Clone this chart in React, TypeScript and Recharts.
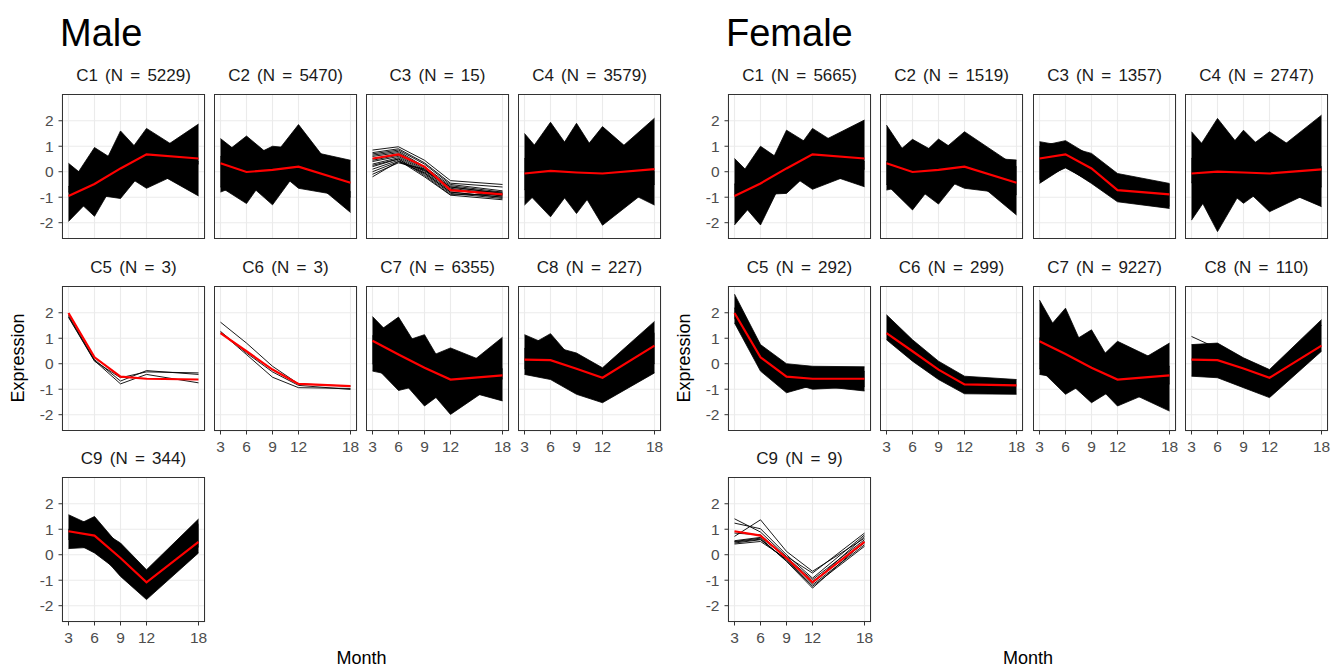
import React from 'react';
import { ComposedChart, Area, Line, XAxis, YAxis, CartesianGrid } from 'recharts';

const months = [3, 6, 9, 12, 18];
const yTicks = [-2, -1, 0, 1, 2];

const maleTitles = [
  'C1 (N = 5229)', 'C2 (N = 5470)', 'C3 (N = 15)', 'C4 (N = 3579)',
  'C5 (N = 3)', 'C6 (N = 3)', 'C7 (N = 6355)', 'C8 (N = 227)', 'C9 (N = 344)',
];
const femaleTitles = [
  'C1 (N = 5665)', 'C2 (N = 1519)', 'C3 (N = 1357)', 'C4 (N = 2747)',
  'C5 (N = 292)', 'C6 (N = 299)', 'C7 (N = 9227)', 'C8 (N = 110)', 'C9 (N = 9)',
];

// cluster centres (red lines)
const maleMeans = [
  [-0.95, -0.48, 0.13, 0.68, 0.52],
  [0.33, -0.01, 0.07, 0.2, -0.43],
  [0.52, 0.68, 0.2, -0.72, -0.89],
  [-0.07, 0.03, -0.03, -0.07, 0.1],
  [1.99, 0.25, -0.51, -0.59, -0.62],
  [1.2, 0.49, -0.23, -0.79, -0.88],
  [0.9, 0.36, -0.16, -0.62, -0.46],
  [0.16, 0.14, -0.2, -0.55, 0.71],
  [0.92, 0.75, -0.13, -1.08, 0.5],
];
const femaleMeans = [
  [-0.95, -0.46, 0.13, 0.68, 0.52],
  [0.33, -0.01, 0.07, 0.2, -0.43],
  [0.52, 0.68, 0.13, -0.72, -0.89],
  [-0.07, 0.0, -0.03, -0.07, 0.09],
  [1.99, 0.25, -0.51, -0.59, -0.59],
  [1.2, 0.49, -0.23, -0.81, -0.85],
  [0.88, 0.38, -0.16, -0.62, -0.46],
  [0.16, 0.14, -0.19, -0.55, 0.71],
  [0.92, 0.75, -0.13, -1.08, 0.5],
];

// envelopes of the dense gene bundles: each band is [low, high] per month
const mC1Bands = [
  [[-1.95, -0.9, -1.05, 0.2, -0.95], [0.33, -0.5, 1.6, 0.5, 1.87]],
  [[-0.8, -1.75, 0.0, -0.65, 0.3], [-0.6, 0.95, 0.3, 1.7, 0.4]],
];
const mC2Bands = [
  [[-0.8, -0.4, -1.3, 0.1, -1.6], [1.3, 0.5, 1.0, 0.9, 0.45]],
  [[-0.6, -1.25, 0.2, -0.65, -1.0], [0.6, 1.4, 0.55, 1.85, -0.8]],
];
const mC4Bands = [
  [[-1.31, -0.3, -1.64, -0.3, -1.31], [1.5, 0.3, 1.9, 0.3, 2.1]],
  [[-0.7, -1.77, -0.4, -2.1, -0.5], [0.5, 1.94, 0.5, 1.77, 0.0]],
];
const mC7Bands = [
  [[-0.29, -0.5, -1.66, -0.9, -1.46], [1.85, 0.8, 1.14, -0.6, 1.04]],
  [[0.0, -1.05, -0.8, -1.99, -0.6], [1.1, 1.83, 0.2, 0.62, -0.2]],
];
const mC8Bands = [
  [[-0.42, -0.62, -1.2, -1.53, -0.36], [1.14, 0.7, 0.42, -0.16, 1.66]],
  [[-0.2, -0.3, -0.9, -1.2, 0.0], [0.6, 1.18, 0.0, -0.3, 1.2]],
];
const mC9Bands = [
  [[0.24, 0.3, -0.85, -1.76, 0.07], [1.57, 1.1, 0.46, -0.59, 1.4]],
  [[0.6, 0.07, -0.7, -1.5, 0.3], [1.0, 1.5, 0.3, -0.7, 1.2]],
];
const fC1Bands = [
  [[-2.09, -0.9, -0.85, 0.1, -0.59], [0.52, -0.5, 1.63, 1.0, 2.03]],
  [[-0.9, -2.09, 0.0, -0.69, 0.1], [-0.5, 1.0, 0.3, 1.7, 0.4]],
];
const fC2Bands = [
  [[-0.72, -0.5, -1.27, 0.0, -1.7], [1.83, 0.3, 1.28, 0.6, 0.46]],
  [[-0.5, -1.5, -0.2, -0.65, -0.9], [0.4, 1.27, 0.7, 1.57, 0.2]],
];
const fC3Bands = [
  [[-0.46, 0.2, -0.46, -1.18, -1.44], [1.18, 1.0, 0.72, -0.07, -0.46]],
  [[-0.3, 0.15, -0.4, -1.1, -1.35], [1.0, 1.22, 0.6, -0.15, -0.5]],
];
const fC4Bands = [
  [[-1.9, -0.4, -1.24, -0.5, -1.37], [1.57, 0.4, 1.63, 0.6, 2.22]],
  [[-0.4, -2.35, -0.6, -1.57, -0.6], [0.5, 2.09, 0.8, 1.57, 0.2]],
];
const fC5Bands = [
  [[1.6, -0.29, -1.14, -0.85, -1.07], [2.73, 0.75, 0.0, -0.1, -0.12]],
  [[1.8, -0.2, -0.7, -1.0, -0.9], [2.2, 0.5, -0.1, -0.2, -0.3]],
];
const fC6Bands = [
  [[0.94, 0.1, -0.62, -1.18, -1.2], [1.92, 0.94, 0.1, -0.49, -0.62]],
];
const fC7Bands = [
  [[-0.42, -0.6, -1.53, -0.9, -1.86], [2.5, 0.7, 1.33, -0.4, 0.81]],
  [[-0.2, -1.2, -0.6, -1.66, -0.8], [1.0, 2.18, -0.1, 0.88, -0.1]],
];
const fC8Bands = [
  [[-0.49, -0.55, -0.94, -1.33, 0.49], [0.75, 0.81, 0.23, -0.23, 1.73]],
];

// individual gene trajectories for the small clusters
const mC3Lines = [
  [0.85, 0.98, 0.45, -0.35, -0.5],
  [0.75, 0.9, 0.35, -0.45, -0.6],
  [0.7, 0.85, 0.3, -0.5, -0.75],
  [0.65, 0.8, 0.2, -0.55, -0.8],
  [0.6, 0.75, 0.15, -0.6, -0.85],
  [0.5, 0.7, 0.1, -0.65, -0.9],
  [0.45, 0.65, 0.05, -0.7, -0.95],
  [0.4, 0.6, 0.0, -0.75, -0.8],
  [0.3, 0.55, -0.05, -0.8, -1.0],
  [0.25, 0.5, -0.1, -0.85, -1.05],
  [0.2, 0.5, -0.15, -0.9, -0.9],
  [0.1, 0.45, -0.2, -0.92, -1.1],
  [0.0, 0.4, 0.05, -0.6, -0.85],
  [-0.1, 0.35, 0.1, -0.7, -0.95],
  [-0.2, 0.4, -0.05, -0.8, -1.0],
];
const mC5Lines = [
  [1.9, 0.16, -0.68, -0.27, -0.42],
  [1.82, 0.1, -0.55, -0.32, -0.36],
  [1.85, 0.12, -0.79, -0.42, -0.75],
];
const mC6Lines = [
  [1.63, 0.81, -0.1, -0.79, -0.88],
  [1.24, 0.36, -0.53, -0.94, -0.97],
  [1.27, 0.42, -0.32, -0.85, -1.01],
];
const fC8Lines = [[1.07, 0.6, 0.1, -0.3, 1.5]];
const fC9Lines = [
  [1.41, 0.89, -0.07, -0.72, 0.85],
  [1.24, 1.02, 0.0, -0.92, 0.78],
  [0.72, 1.37, 0.13, -0.65, 0.65],
  [0.52, 0.65, -0.26, -1.31, 0.52],
  [0.46, 0.59, -0.2, -1.18, 0.39],
  [0.42, 0.52, -0.16, -1.05, 0.46],
  [0.55, 0.68, -0.1, -0.98, 0.59],
  [0.85, 0.78, -0.13, -1.11, 0.72],
  [0.5, 0.61, -0.24, -1.24, 0.33],
];

const maleBands = [mC1Bands, mC2Bands, [], mC4Bands, [], [], mC7Bands, mC8Bands, mC9Bands];
const maleLines = [[], [], mC3Lines, [], mC5Lines, mC6Lines, [], [], []];
const femaleBands = [fC1Bands, fC2Bands, fC3Bands, fC4Bands, fC5Bands, fC6Bands, fC7Bands, fC8Bands, []];
const femaleLines = [[], [], [], [], [], [], [], fC8Lines, fC9Lines];

const FONT = '"Liberation Sans", Arial, sans-serif';
const PW = 143;
const PH = 145;
const Y_W = 40;
const X_H = 28;
const R_PAD = 12;
const TICK_FONT = 15.5;
const X_DOMAIN = [2.25, 18.75];
const Y_DOMAIN = [-2.64, 3.05];
const ROW_TOPS = [94, 286, 477];
const MALE_LEFTS = [62, 214, 366, 518];
const FEMALE_LEFTS = [728, 880, 1033, 1185];

interface FacetProps {
  title: string;
  mean: number[];
  bands: number[][][];
  lines: number[][];
  left: number;
  top: number;
  showX: boolean;
  showY: boolean;
}

function Facet({ title, mean, bands, lines, left, top, showX, showY }: FacetProps) {
  const data = months.map((m, i) => {
    const row: Record<string, any> = { month: m, mean: mean[i] };
    bands.forEach((b, k) => {
      row['b' + k] = [b[0][i], b[1][i]];
    });
    lines.forEach((l, k) => {
      row['l' + k] = l[i];
    });
    return row;
  });
  const yw = showY ? Y_W : 0;
  const xh = showX ? X_H : 0;

  return (
    <>
      <div
        style={{
          position: 'absolute',
          left: left - 10,
          top: top - 28,
          width: PW + 20,
          textAlign: 'center',
          fontSize: 17,
          lineHeight: '20px',
          wordSpacing: 2.5,
          color: '#1a1a1a',
          whiteSpace: 'nowrap',
        }}
      >
        {title}
      </div>
      <div style={{ position: 'absolute', left: left - yw, top, width: yw + PW + R_PAD, height: PH + xh }}>
        <ComposedChart
          width={yw + PW + R_PAD}
          height={PH + xh}
          data={data}
          margin={{ top: 0, right: R_PAD, bottom: 0, left: 0 }}
        >
          <CartesianGrid stroke="#EBEBEB" strokeWidth={1.1} />
          <XAxis
            dataKey="month"
            type="number"
            domain={X_DOMAIN}
            ticks={months}
            interval={0}
            allowDataOverflow
            hide={!showX}
            height={X_H}
            axisLine={false}
            tickSize={3.5}
            tickMargin={6}
            tickLine={{ stroke: '#333' }}
            tick={{ fill: '#4D4D4D', fontSize: TICK_FONT, fontFamily: FONT }}
          />
          <YAxis
            type="number"
            domain={Y_DOMAIN}
            ticks={yTicks}
            interval={0}
            allowDataOverflow
            hide={!showY}
            width={Y_W}
            axisLine={false}
            tickSize={3.5}
            tickMargin={5}
            tickLine={{ stroke: '#333' }}
            tick={{ fill: '#4D4D4D', fontSize: TICK_FONT, fontFamily: FONT }}
          />
          {bands.map((_, k) => (
            <Area
              key={'b' + k}
              dataKey={'b' + k}
              type="linear"
              fill="#000"
              fillOpacity={1}
              stroke="#000"
              strokeWidth={0.8}
              dot={false}
              activeDot={false}
              isAnimationActive={false}
            />
          ))}
          {lines.map((_, k) => (
            <Line
              key={'l' + k}
              dataKey={'l' + k}
              type="linear"
              stroke="#000"
              strokeWidth={0.9}
              dot={false}
              activeDot={false}
              isAnimationActive={false}
            />
          ))}
          <Line
            dataKey="mean"
            type="linear"
            stroke="#FF0000"
            strokeWidth={2.2}
            dot={false}
            activeDot={false}
            isAnimationActive={false}
          />
        </ComposedChart>
        <div
          style={{
            position: 'absolute',
            left: yw,
            top: 0,
            width: PW,
            height: PH,
            border: '1px solid #333',
            boxSizing: 'border-box',
            pointerEvents: 'none',
          }}
        />
      </div>
    </>
  );
}

function Panel({ label, titles, means, bands, lines, lefts }: any) {
  const x0 = lefts[0];
  const x1 = lefts[3] + PW;
  const bottom = ROW_TOPS[2] + PH;
  return (
    <>
      <div style={{ position: 'absolute', left: x0 - 2, top: 11, fontSize: 38, lineHeight: '44px', color: '#000' }}>
        {label}
      </div>
      {titles.map((t: string, i: number) => {
        const row = Math.floor(i / 4);
        const col = i % 4;
        return (
          <Facet
            key={t}
            title={t}
            mean={means[i]}
            bands={bands[i]}
            lines={lines[i]}
            left={lefts[col]}
            top={ROW_TOPS[row]}
            showX={i + 4 >= titles.length}
            showY={col === 0}
          />
        );
      })}
      <div
        style={{
          position: 'absolute',
          left: x0 - 44 - 100,
          top: (ROW_TOPS[0] + bottom) / 2 - 11,
          width: 200,
          height: 22,
          lineHeight: '22px',
          textAlign: 'center',
          fontSize: 18,
          transform: 'rotate(-90deg)',
          color: '#000',
        }}
      >
        Expression
      </div>
      <div
        style={{
          position: 'absolute',
          left: (x0 + x1) / 2 - 100,
          top: 650,
          width: 200,
          height: 17,
          lineHeight: '17px',
          textAlign: 'center',
          fontSize: 18,
          color: '#000',
        }}
      >
        Month
      </div>
    </>
  );
}

export default function App() {
  return (
    <div
      style={{
        position: 'absolute',
        left: 0,
        top: 0,
        width: 1333,
        height: 668,
        background: '#fff',
        fontFamily: FONT,
        overflow: 'hidden',
      }}
    >
      <Panel label="Male" titles={maleTitles} means={maleMeans} bands={maleBands} lines={maleLines} lefts={MALE_LEFTS} />
      <Panel label="Female" titles={femaleTitles} means={femaleMeans} bands={femaleBands} lines={femaleLines} lefts={FEMALE_LEFTS} />
    </div>
  );
}
